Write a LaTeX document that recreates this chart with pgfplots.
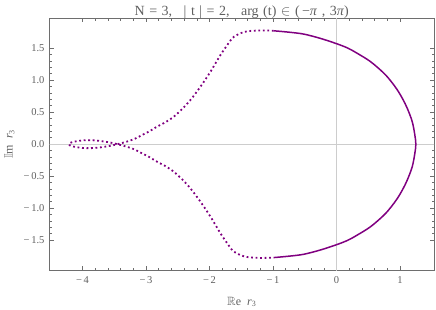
\documentclass[border=0pt]{standalone}
\usepackage{amssymb}
\usepackage{fontspec}
\setmainfont{Liberation Serif}
\usepackage{pgfplots}
\pgfplotsset{compat=1.18}
\definecolor{curve}{RGB}{128,0,128}
\definecolor{frame}{RGB}{110,110,110}
\definecolor{txt}{RGB}{95,95,95}
\definecolor{gridc}{RGB}{205,205,205}
\newcommand{\tsp}{\hspace{4.5pt}}
\begin{document}
\begin{tikzpicture}
\useasboundingbox (0,0) rectangle (436pt,309pt);
\begin{axis}[
  at={(49.5pt,39pt)}, anchor=south west,
  scale only axis, width=384.5pt, height=251.7pt,
  xmin=-4.52, xmax=1.535, ymin=-1.966, ymax=1.967,
  axis line style={frame, line width=0.8pt},
  tick style={frame, line width=0.6pt},
  major tick length=4pt, minor tick length=2.2pt,
  tick align=inside,
  xtick={-4,-3,-2,-1,0,1},
  xticklabels={−\,4,−\,3,−\,2,−\,1,0,1},
  minor x tick num=4,
  ytick={-1.5,-1,-0.5,0,0.5,1,1.5},
  yticklabels={−\,1.5,−\,1.0,−\,0.5,0.0,0.5,1.0,1.5},
  minor y tick num=4,
  ticklabel style={font=\fontsize{10.5}{12}\selectfont, text=txt},
  xticklabel style={yshift=-3pt},
  yticklabel style={xshift=-1.5pt},
  every axis title shift=0pt,
  title={N\tsp=\tsp3,\tsp\enspace|\tsp t\tsp|\tsp=\tsp2,\tsp\enspace arg\tsp(t)\tsp$\in$\tsp(\,{−}\textit{π}\tsp,\tsp3\textit{π})},
  title style={at={(axis description cs:0.5,1)}, anchor=base, yshift=3.3pt, font=\fontsize{14}{16}\selectfont, text=txt},
  xlabel={$\mathbb{R}$e\ \ \textit{r}\textsubscript{3}},
  xlabel style={at={(axis description cs:0.5,0)}, anchor=base, yshift=-35pt, font=\fontsize{12}{14}\selectfont, text=txt},
  ylabel={$\mathbb{I}$m\ \ \textit{r}\textsubscript{3}},
  ylabel style={at={(axis description cs:-0.0962,0.5)}, anchor=base, font=\fontsize{12}{14}\selectfont, text=txt},
  clip=true,
]
\draw[gridc, line width=0.7pt] (axis cs:0,-3) -- (axis cs:0,3);
\draw[gridc, line width=0.7pt] (axis cs:-5,0) -- (axis cs:2,0);
% solid part, arg(t) in (-pi, pi)
\addplot[curve, line width=1.5pt, smooth, tension=0.55] coordinates {
(-0.99,-1.772) (-0.75,-1.75) (-0.515,-1.72) (-0.25,-1.652) (0.01,-1.567)
(0.18,-1.50) (0.326,-1.42) (0.535,-1.29) (0.745,-1.11) (0.86,-0.98) (0.956,-0.85)
(1.04,-0.71) (1.113,-0.5625) (1.192,-0.353) (1.233,-0.145) (1.249,0)
(1.233,0.145) (1.192,0.353) (1.113,0.5625) (1.04,0.71) (0.956,0.85) (0.86,0.98)
(0.745,1.11) (0.535,1.29) (0.326,1.42) (0.18,1.50) (0.01,1.567) (-0.25,1.652)
(-0.515,1.72) (-0.75,1.75) (-0.99,1.772)
};
% dotted part, arg(t) in (pi, 3pi)
\addplot[curve, line width=1.8pt, dash pattern=on 1.8pt off 2.7pt, smooth, tension=0.5] coordinates {
(-0.99,1.772) (-1.09,1.776) (-1.2,1.777) (-1.354,1.77) (-1.45,1.755) (-1.512,1.734)
(-1.58,1.70) (-1.643,1.656) (-1.72,1.55) (-1.827,1.395) (-1.984,1.134) (-2.142,0.90)
(-2.299,0.692) (-2.43,0.55) (-2.562,0.431) (-2.69,0.345) (-2.824,0.275) (-2.95,0.20)
(-3.087,0.13) (-3.19,0.078) (-3.32,0.035) (-3.45,0) (-3.56,-0.025) (-3.665,-0.042)
(-3.77,-0.056) (-3.874,-0.062) (-3.98,-0.06) (-4.07,-0.05) (-4.15,-0.035) (-4.2,-0.018)
(-4.215,0)
(-4.2,0.018) (-4.15,0.035) (-4.07,0.05) (-3.98,0.06) (-3.874,0.062) (-3.77,0.056)
(-3.665,0.042) (-3.56,0.025) (-3.45,0) (-3.32,-0.035) (-3.19,-0.078) (-3.087,-0.13)
(-2.95,-0.20) (-2.824,-0.275) (-2.69,-0.345) (-2.562,-0.431) (-2.43,-0.55) (-2.299,-0.692)
(-2.142,-0.90) (-1.984,-1.134) (-1.827,-1.395) (-1.72,-1.55) (-1.643,-1.656) (-1.58,-1.70)
(-1.512,-1.734) (-1.45,-1.755) (-1.354,-1.77) (-1.2,-1.777) (-1.09,-1.776) (-0.99,-1.772)
};
\end{axis}
\end{tikzpicture}
\end{document}
